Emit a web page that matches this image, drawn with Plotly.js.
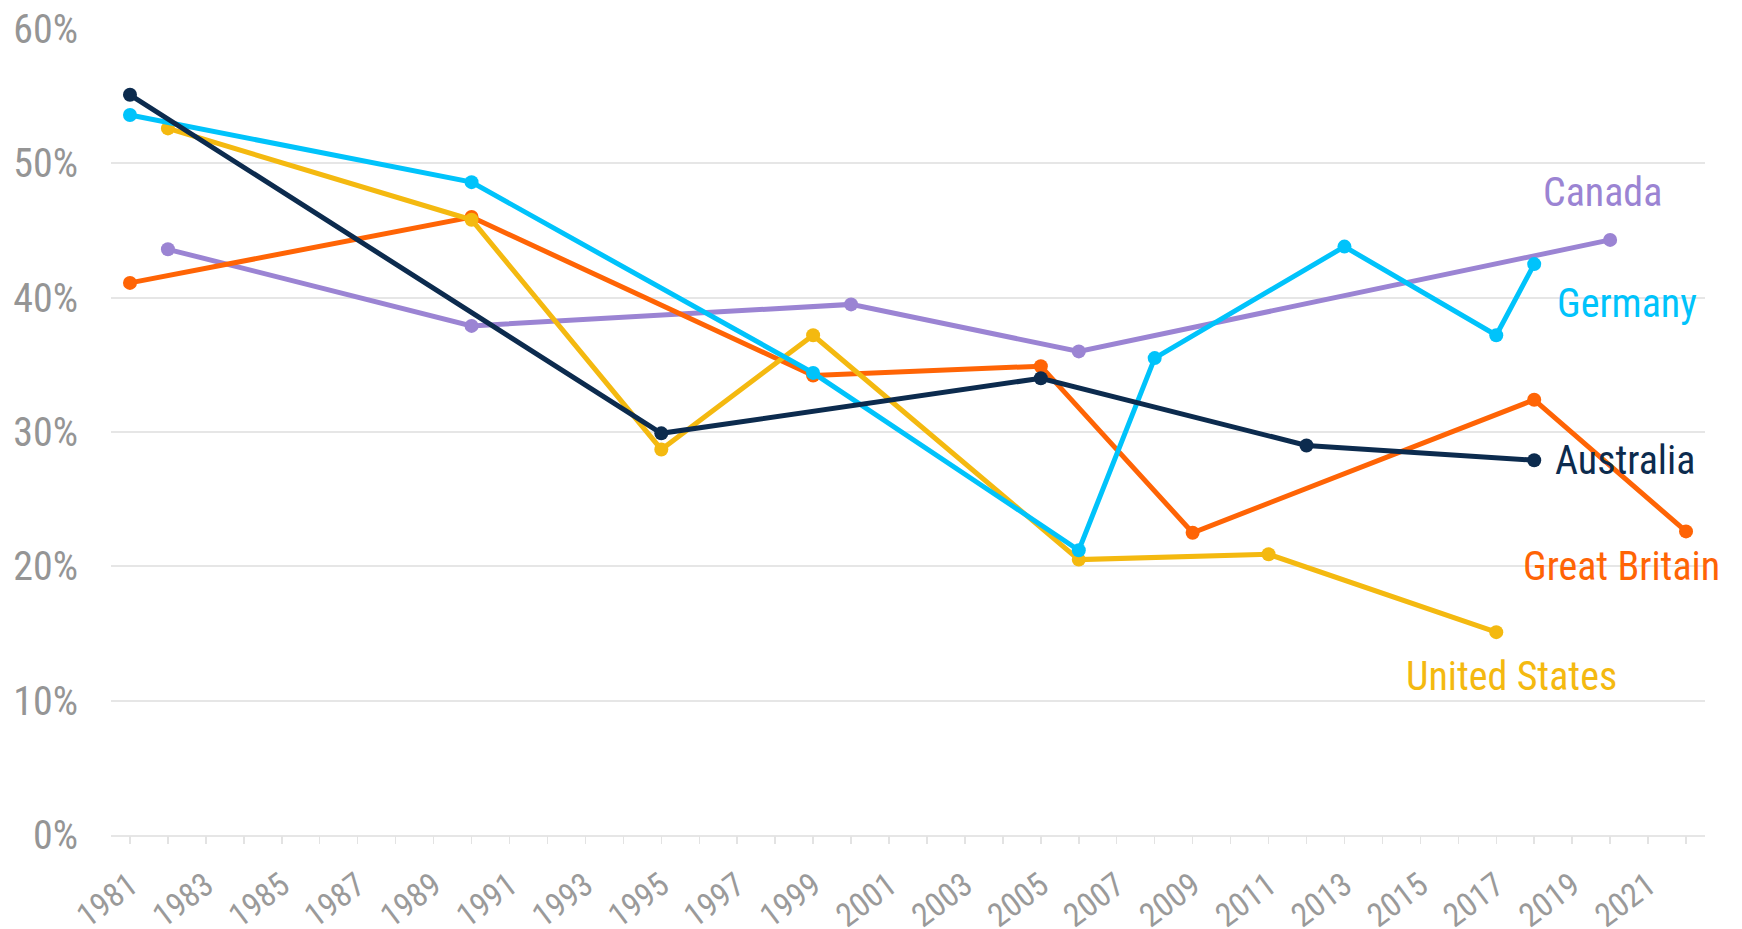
<!DOCTYPE html>
<html>
<head>
<meta charset="utf-8">
<script src="https://cdn.plot.ly/plotly-3.0.1.min.js"></script>
<style>html,body{margin:0;padding:0;background:#fff;}#chart{width:1742px;height:929px;}</style>
</head>
<body>
<div id="chart"></div>
<script>
// Data (share, %)
const australiaYears = [1981, 1995, 2005, 2012, 2018];
const australiaValues = [55.1, 29.9, 34.0, 29.0, 27.9];

const canadaYears = [1982, 1990, 2000, 2006, 2020];
const canadaValues = [43.6, 37.9, 39.5, 36.0, 44.3];

const germanyYears = [1981, 1990, 1999, 2006, 2008, 2013, 2017, 2018];
const germanyValues = [53.6, 48.6, 34.4, 21.2, 35.5, 43.8, 37.2, 42.5];

const britainYears = [1981, 1990, 1999, 2005, 2009, 2018, 2022];
const britainValues = [41.1, 46.0, 34.2, 34.9, 22.5, 32.4, 22.6];

const usYears = [1982, 1990, 1995, 1999, 2006, 2011, 2017];
const usValues = [52.6, 45.8, 28.7, 37.2, 20.5, 20.9, 15.1];

const seriesNames = ["Australia", "Canada", "Germany", "Great Britain", "United States"];

const FONT = '"Roboto Condensed", "Roboto", sans-serif';
const colors = {
  "Australia": "#0c2b4e",
  "Canada": "#9b84d3",
  "Germany": "#00c3fb",
  "Great Britain": "#ff6405",
  "United States": "#f4b910"
};

function trace(name, xs, ys) {
  return {
    type: "scatter", mode: "lines+markers", name: name,
    x: xs, y: ys,
    line: {color: colors[name], width: 5},
    marker: {color: colors[name], size: 14},
    hoverinfo: "x+y+name"
  };
}

const data = [
  trace("Canada", canadaYears, canadaValues),
  trace("Great Britain", britainYears, britainValues),
  trace("United States", usYears, usValues),
  trace("Germany", germanyYears, germanyValues),
  trace("Australia", australiaYears, australiaValues),
  // empty helper trace so the yearly tick axis is drawn
  {type: "scatter", mode: "markers", x: [], y: [], xaxis: "x2", yaxis: "y", hoverinfo: "skip", showlegend: false}
];

function label(text, x, y) {
  return {text: text, x: x, y: y, xref: "x", yref: "y", showarrow: false,
          font: {family: FONT, size: 40, color: colors[text]}, xanchor: "center", yanchor: "middle"};
}

const xRange = [1980.5, 2022.5];

const layout = {
  width: 1742, height: 929,
  margin: {l: 111, r: 37, t: 29, b: 94},
  paper_bgcolor: "#fff", plot_bgcolor: "#fff",
  showlegend: false,
  font: {family: FONT, color: "#959595"},
  xaxis: {
    type: "linear", range: xRange,
    tickmode: "linear", tick0: 1981, dtick: 2,
    tickangle: -37, tickfont: {family: FONT, size: 33, color: "#9a9a9a"},
    ticks: "outside", ticklen: 16, tickcolor: "rgba(0,0,0,0)", tickwidth: 1,
    showgrid: false, zeroline: false,
    showline: true, linecolor: "#e6e6e6", linewidth: 2,
    automargin: false
  },
  xaxis2: {
    type: "linear", range: xRange, overlaying: "x", anchor: "y", side: "bottom",
    tickmode: "linear", tick0: 1981, dtick: 1,
    ticks: "outside", ticklen: 8, tickcolor: "#e3e3e3", tickwidth: 1.5,
    showticklabels: false, showgrid: false, zeroline: false, showline: false,
    automargin: false
  },
  yaxis: {
    range: [0, 60], tickmode: "linear", tick0: 0, dtick: 10, ticksuffix: "%",
    tickfont: {family: FONT, size: 40, color: "#959595"},
    showgrid: true, gridcolor: "#e6e6e6", gridwidth: 2,
    zeroline: false, showline: false, ticks: "", ticklabelstandoff: 32,
    automargin: false
  },
  annotations: [
    label("Canada", 2019.8, 47.8),
    label("Germany", 2020.45, 39.6),
    label("Australia", 2020.4, 27.9),
    label("Great Britain", 2020.3, 20.0),
    label("United States", 2017.4, 11.8)
  ]
};

Plotly.newPlot("chart", data, layout, {displayModeBar: false, staticPlot: true});
</script>
</body>
</html>
